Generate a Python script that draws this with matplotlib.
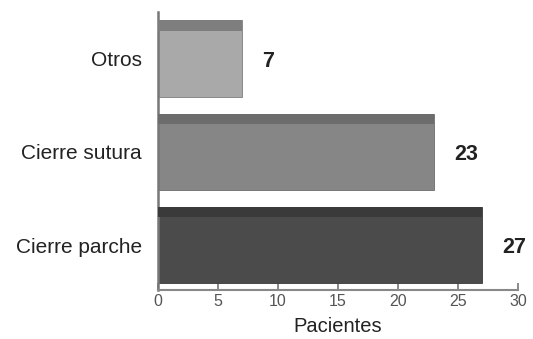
import matplotlib.pyplot as plt
import numpy as np

plt.rcParams['font.family'] = ['Liberation Sans', 'DejaVu Sans']

# Datos
categorias = ["Cierre parche", "Cierre sutura", "Otros"]
pacientes = [27, 23, 7]
colores = ["#4b4b4b", "#868686", "#a9a9a9"]
colores_borde = ["#3a3a3a", "#6c6c6c", "#7e7e7e"]

fig = plt.figure(figsize=(5.33, 3.39), dpi=100)
ax = fig.add_axes([158 / 533, 1 - 290 / 339, 360 / 533, 278 / 339])

y = np.arange(len(categorias))
alto = 0.82
franja = 0.11

ax.barh(y, pacientes, height=alto, color=colores, edgecolor=colores_borde, linewidth=0.6, zorder=2)
# franja oscura en la parte superior de cada barra
ax.barh(y + alto / 2 - franja / 2, pacientes, height=franja, color=colores_borde, linewidth=0, zorder=3)

for yi, v in zip(y, pacientes):
    ax.text(v + 1.7, yi, str(v), ha="left", va="center_baseline", fontsize=15.5,
            fontweight="bold", color="#222222")

ax.set_xlim(0, 30)
ax.set_ylim(-0.48, 2.5)
ax.set_yticks(y)
ax.set_yticklabels(categorias, fontsize=15, color="#222222")
ax.tick_params(axis="y", length=0, pad=11.5)

ax.set_xticks(np.arange(0, 31, 5))
ax.tick_params(axis="x", direction="in", length=5, width=1.2, color="#777777",
               labelsize=11.5, labelcolor="#555555", pad=3)
ax.set_xlabel("Pacientes", fontsize=14.5, color="#222222", labelpad=6)

for s in ["top", "right"]:
    ax.spines[s].set_visible(False)
ax.spines["left"].set_color("#777777")
ax.spines["left"].set_linewidth(1.8)
ax.spines["bottom"].set_color("#888888")
ax.spines["bottom"].set_linewidth(1.5)

fig.savefig("out.png", dpi=100)
